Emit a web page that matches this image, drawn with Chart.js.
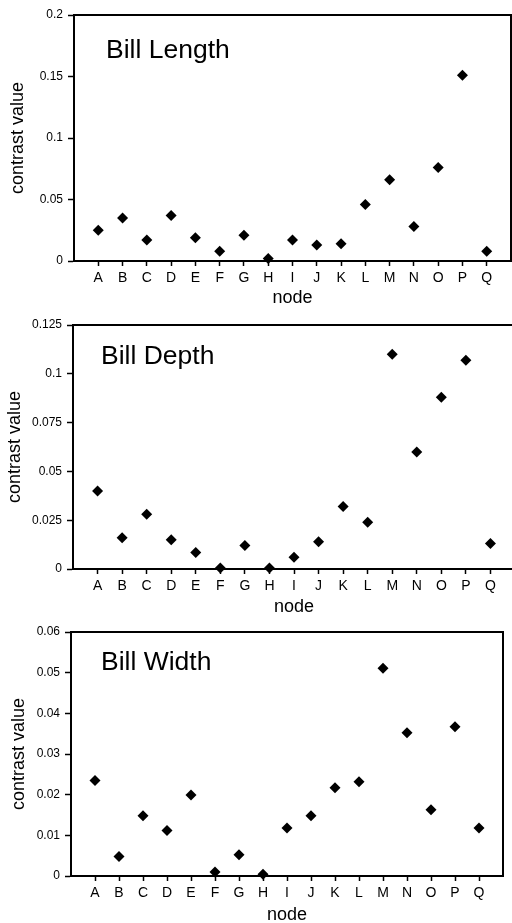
<!DOCTYPE html>
<html>
<head>
<meta charset="utf-8">
<script src="https://cdn.jsdelivr.net/npm/chart.js@4.4.0/dist/chart.umd.min.js"></script>
<style>
  html, body { margin: 0; padding: 0; background: #fff; overflow: hidden; width: 512px; height: 923px; }
  body { position: relative; }
  canvas { position: absolute; left: 0; }
</style>
</head>
<body>
<canvas id="lengthChart" width="521" height="310" style="top:0px"></canvas>
<canvas id="depthChart" width="525" height="308" style="top:310px"></canvas>
<canvas id="widthChart" width="513" height="310" style="top:616px"></canvas>
<script>
// nodos del árbol
const nodes = ['A', 'B', 'C', 'D', 'E', 'F', 'G', 'H', 'I', 'J', 'K', 'L', 'M', 'N', 'O', 'P', 'Q'];

// valores de contraste
const billLength = [0.025, 0.035, 0.017, 0.037, 0.019, 0.008, 0.021, 0.002, 0.017, 0.013, 0.014, 0.046, 0.066, 0.028, 0.076, 0.151, 0.008];
const billDepth = [0.040, 0.016, 0.028, 0.015, 0.0085, 0.0005, 0.012, 0.0005, 0.006, 0.014, 0.032, 0.024, 0.110, 0.060, 0.088, 0.107, 0.013];
const billWidth = [0.0235, 0.0048, 0.0148, 0.0112, 0.0199, 0.001, 0.0052, 0.0004, 0.0118, 0.0148, 0.0217, 0.0232, 0.0511, 0.0352, 0.0163, 0.0367, 0.0118];

// marcas del eje y
const lengthTicks = [0, 0.05, 0.1, 0.15, 0.2];
const depthTicks = [0, 0.025, 0.05, 0.075, 0.1, 0.125];
const widthTicks = [0, 0.01, 0.02, 0.03, 0.04, 0.05, 0.06];

const FONT = "'Liberation Sans', Arial, Helvetica, sans-serif";

// marco del área del gráfico y título dentro de él
const framePlugin = {
    id: 'frame',
    beforeDatasetsDraw(chart, args, opts) {
        const { ctx, chartArea: a } = chart;
        ctx.save();
        ctx.strokeStyle = '#000';
        ctx.lineWidth = 2;
        ctx.strokeRect(a.left, a.top, a.right - a.left, a.bottom - a.top);
        ctx.fillStyle = '#000';
        ctx.font = '26.5px ' + FONT;
        ctx.textBaseline = 'alphabetic';
        ctx.fillText(opts.text, a.left + opts.dx, a.top + opts.dy);
        ctx.restore();
    }
};

function makeChart(id, values, yTicks, box, label) {
    const ctx = document.getElementById(id).getContext('2d');
    return new Chart(ctx, {
        type: 'scatter',
        data: {
            datasets: [{
                data: values.map((v, i) => ({ x: i, y: v })),
                pointStyle: 'rectRot',
                pointRadius: 5.5,
                pointHoverRadius: 5.5,
                backgroundColor: '#000',
                borderColor: '#000',
                borderWidth: 0,
                clip: false
            }]
        },
        plugins: [framePlugin],
        options: {
            responsive: false,
            animation: false,
            events: [],
            layout: { padding: { left: 0, top: box.top, right: box.right, bottom: 0 } },
            plugins: {
                legend: { display: false },
                tooltip: { enabled: false },
                frame: label
            },
            scales: {
                x: {
                    type: 'linear',
                    min: -1,
                    max: nodes.length,
                    afterBuildTicks: axis => { axis.ticks = nodes.map((n, i) => ({ value: i })); },
                    afterFit: axis => { axis.height = box.xHeight; },
                    grid: { drawOnChartArea: false, drawTicks: true, tickLength: 5, color: '#000', tickColor: '#000', tickWidth: 1.5 },
                    border: { display: true, color: '#000', width: 2 },
                    ticks: {
                        color: '#000',
                        padding: 4,
                        maxRotation: 0,
                        autoSkip: false,
                        font: { family: FONT, size: 14 },
                        callback: v => nodes[v]
                    },
                    title: {
                        display: true,
                        text: 'node',
                        color: '#000',
                        font: { family: FONT, size: 18 },
                        padding: { top: 0, bottom: box.nodePad }
                    }
                },
                y: {
                    min: yTicks[0],
                    max: yTicks[yTicks.length - 1],
                    afterBuildTicks: axis => { axis.ticks = yTicks.map(v => ({ value: v })); },
                    afterFit: axis => { axis.width = box.left; },
                    grid: { drawOnChartArea: false, drawTicks: true, tickLength: 6, color: '#000', tickColor: '#000', tickWidth: 1.5 },
                    border: { display: true, color: '#000', width: 2 },
                    ticks: {
                        color: '#000',
                        padding: 5,
                        font: { family: FONT, size: 12 },
                        callback: v => String(v)
                    },
                    title: {
                        display: true,
                        text: 'contrast value',
                        color: '#000',
                        font: { family: FONT, size: 18 },
                        padding: { top: box.titlePad, bottom: 0 }
                    }
                }
            }
        }
    });
}

makeChart('lengthChart', billLength, lengthTicks,
    { left: 74, top: 15, right: 10, xHeight: 49, nodePad: 1, titlePad: 7 },
    { text: 'Bill Length', dx: 32, dy: 43 });
makeChart('depthChart', billDepth, depthTicks,
    { left: 73, top: 15, right: 10, xHeight: 49, nodePad: 0, titlePad: 4 },
    { text: 'Bill Depth', dx: 28, dy: 39 });
makeChart('widthChart', billWidth, widthTicks,
    { left: 71, top: 16, right: 10, xHeight: 50, nodePad: 0, titlePad: 8 },
    { text: 'Bill Width', dx: 30, dy: 38 });
</script>
</body>
</html>
